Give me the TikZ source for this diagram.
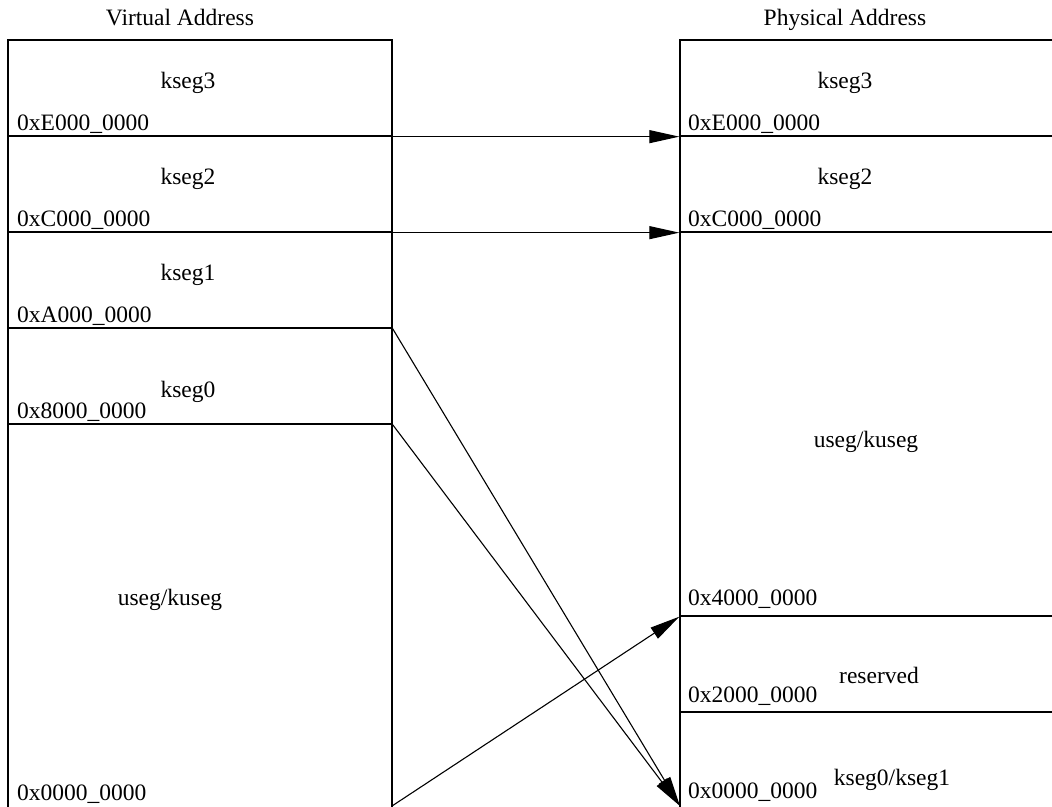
\documentclass[tikz,border=0pt]{standalone}
\usepackage{fontspec}
\setmainfont{Liberation Serif}
\usetikzlibrary{arrows.meta}
\tikzset{
  seg/.style={draw, line width=1.3pt, inner sep=0pt, minimum width=#1},
  seglabel/.style={anchor=base, inner sep=0pt},
  addr/.style={anchor=base west, inner sep=0pt},
  mapto/.style={line width=1.1pt, -{Triangle[length=30pt, width=13pt]}}
}
\begin{document}
\begin{tikzpicture}[x=1pt, y=-1pt, font=\fontsize{23.5}{28}\selectfont]
			%%%%% START %%%%%
			\clip (0, 0) rectangle (1052, 806);
			
			% virtual side
			\node[seglabel] (vtitle) at (180, 25) {Virtual Address};
			\node[seg=384pt, minimum height=96pt] (vk3) at (200, 88) {};
			\node[seg=384pt, minimum height=96pt] (vk2) at (200, 184) {};
			\node[seg=384pt, minimum height=96pt] (vk1) at (200, 280) {};
			\node[seg=384pt, minimum height=96pt] (vk0) at (200, 376) {};
			\node[seg=384pt, minimum height=436pt] (vku) at (200, 642) {};
			
			\node[seglabel] (vk3l) at (188, 88) {kseg3};
			\node[addr] (vk3a) at (17, 130) {0xE000\_0000};
			\node[seglabel] (vk2l) at (188, 184) {kseg2};
			\node[addr] (vk2a) at (17, 226) {0xC000\_0000};
			\node[seglabel] (vk1l) at (188, 280) {kseg1};
			\node[addr] (vk1a) at (17, 322) {0xA000\_0000};
			\node[seglabel] (vk0l) at (188, 397) {kseg0};
			\node[addr] (vk0a) at (17, 418) {0x8000\_0000};
			\node[seglabel] (vkul) at (170, 605) {useg/kuseg};
			\node[addr] (vkua) at (17, 800) {0x0000\_0000};
			
			% physical side
			\node[seglabel] (ptitle) at (845, 25) {Physical Address};
			\node[seg=400pt, minimum height=96pt] (pk3) at (880, 88) {};
			\node[seg=400pt, minimum height=96pt] (pk2) at (880, 184) {};
			\node[seg=400pt, minimum height=384pt] (pku) at (880, 424) {};
			\node[seg=400pt, minimum height=96pt] (pres) at (880, 664) {};
			\node[seg=400pt, minimum height=118pt] (pk01) at (880, 771) {};
			
			\node[seglabel] (pk3l) at (845, 88) {kseg3};
			\node[addr] (pk3a) at (688, 130) {0xE000\_0000};
			\node[seglabel] (pk2l) at (845, 184) {kseg2};
			\node[addr] (pk2a) at (688, 226) {0xC000\_0000};
			\node[seglabel] (pkul) at (866, 447) {useg/kuseg};
			\node[addr] (pkua) at (688, 605) {0x4000\_0000};
			\node[seglabel] (presl) at (879, 683) {reserved};
			\node[addr] (presa) at (688, 702) {0x2000\_0000};
			\node[seglabel] (pk01l) at (892, 785) {kseg0/kseg1};
			\node[addr] (pk01a) at (688, 798) {0x0000\_0000};
			
			\coordinate (vbot) at (392, 806);
			\coordinate (pbot) at (680, 806);
			
			% mappings
			\draw[mapto] (vk3.south east) -- (pk3.south west);
			\draw[mapto] (vk2.south east) -- (pk2.south west);
			\draw[mapto] (vk1.south east) -- (pbot);
			\draw[mapto] (vk0.south east) -- (pbot);
			\draw[mapto] (vbot) -- (pku.south west);
			%%%%% END %%%%%
\end{tikzpicture}
\end{document}
